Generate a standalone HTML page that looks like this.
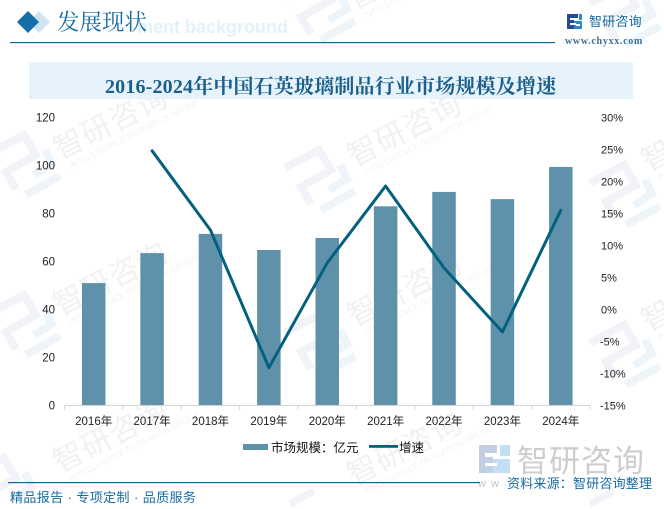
<!DOCTYPE html>
<html lang="zh">
<head>
<meta charset="utf-8">
<title>2016-2024年中国石英玻璃制品行业市场规模及增速</title>
<style>
html,body{margin:0;padding:0;background:#fff}
#stage{position:relative;width:664px;height:509px;overflow:hidden;background:#fff}
svg{position:absolute;left:0;top:0;overflow:hidden}
text{font-family:"Liberation Sans","Noto Sans CJK SC",sans-serif}
.serif{font-family:"Liberation Serif","Noto Serif CJK SC",serif}
</style>
</head>
<body>
<div id="stage">
<svg id="chart" width="664" height="509" viewBox="0 0 664 509">
  <defs>
    <g id="wm-logo">
      <path d="M0 18 L34 0 L46 20 L16 37 L26 54" fill="none" stroke="#f1f3f8" stroke-width="8"/>
      <path d="M44 40 L62 29 L55 15" fill="none" stroke="#edf5fb" stroke-width="8"/>
      <path d="M36 60 L70 41" fill="none" stroke="#edf5fb" stroke-width="8"/>
    </g>
    <g id="wm-logo-cut">
      <path d="M0 18 L34 0 L46 20 L16 37 L21 46" fill="none" stroke="#f1f3f8" stroke-width="8"/>
      <path d="M44 40 L62 29 L55 15" fill="none" stroke="#edf5fb" stroke-width="8"/>
    </g>
    <g id="wm-logo-edge">
      <path d="M0 14 L24 1" fill="none" stroke="#f1f3f8" stroke-width="7"/>
    </g>
    <g id="wm-word">
      <text x="0" y="0" font-size="30" fill="#f1f1f1" letter-spacing="1">智研咨询</text>
      <text x="6" y="13" font-size="8.5" fill="#f3f3f3">INTELLIGENCE RESEARCH GROUP</text>
    </g>
  </defs>

  <g id="watermarks">
    <use href="#wm-word" transform="translate(60,160) rotate(-27)"/>
    <use href="#wm-word" transform="translate(60,316) rotate(-27)"/>
    <use href="#wm-word" transform="translate(60,473) rotate(-27)"/>
    <use href="#wm-word" transform="translate(354,10) rotate(-27)"/>
    <use href="#wm-word" transform="translate(354,167) rotate(-27)"/>
    <use href="#wm-word" transform="translate(354,327) rotate(-27)"/>
    <use href="#wm-word" transform="translate(354,486) rotate(-27)"/>
    <use href="#wm-word" transform="translate(648,172) rotate(-27)"/>
    <use href="#wm-word" transform="translate(648,332) rotate(-27)"/>
    <use href="#wm-logo" transform="translate(-10,135)"/>
    <use href="#wm-logo" transform="translate(-10,295)"/>
    <use href="#wm-logo-cut" transform="translate(-30,458)"/>
    <use href="#wm-logo" transform="translate(285,-20)"/>
    <use href="#wm-logo" transform="translate(285,150)"/>
    <use href="#wm-logo" transform="translate(285,315)"/>
    <use href="#wm-logo-edge" transform="translate(290,490)"/>
    <use href="#wm-logo" transform="translate(590,165)"/>
    <use href="#wm-logo" transform="translate(590,325)"/>
    <use href="#wm-logo" transform="translate(590,-15)"/>
    <use href="#wm-logo-edge" transform="translate(590,490)"/>
  </g>

  <g>
    <text x="137" y="33" font-size="18" font-weight="bold" fill="#e3f1fa">ment background</text>
    <polygon points="39,11 50,22 39,33 28,22" fill="#cfe3f0"/>
    <polygon points="28,11 39,22 28,33 17,22" fill="#166fa9"/>
    <text class="serif" x="57" y="30" font-size="22.5" fill="#176ba1">发展现状</text>
    <rect x="10" y="42" width="545" height="1.2" fill="#0f669b"/>
    <g>
      <rect x="567" y="14" width="7" height="15" fill="#2b4a96"/>
      <rect x="574" y="14" width="4" height="4" fill="#2b4a96"/>
      <rect x="579" y="14" width="3" height="6" fill="#2b8ccc"/>
      <rect x="574" y="21" width="8" height="8" fill="#2b8ccc"/>
      <rect x="570" y="18" width="6" height="2" fill="#fff"/>
      <rect x="570" y="23" width="6" height="2" fill="#fff"/>
      <rect x="576" y="24" width="4" height="2" fill="#fff"/>
    </g>
    <text x="589" y="26" font-size="13" fill="#176ba1" letter-spacing="0.2">智研咨询</text>
    <text class="serif" x="565" y="44" font-size="10" font-weight="bold" fill="#3f6f94" letter-spacing="0.7">www.chyxx.com</text>
  </g>

  <rect x="29" y="62" width="604" height="37" fill="#e6f3fb"/>
  <text class="serif" x="105" y="93" font-size="20" font-weight="bold" fill="#1b5f8d" letter-spacing="0.17">2016-2024年中国石英玻璃制品行业市场规模及增速</text>

  <g id="y-left"></g>
  <g id="y-right"></g>
  <g id="bars"></g>
  <g id="x-axis"></g>
  <g id="line"></g>

  <g>
    <g>
      <rect x="243" y="444" width="25" height="6" fill="#5f92aa"/>
      <text x="271" y="452" font-size="12.5" fill="#111">市场规模：亿元</text>
    </g>
    <g>
      <rect x="369" y="445" width="29" height="2.8" fill="#04607f"/>
      <text x="399" y="452" font-size="12.5" fill="#111">增速</text>
    </g>
  </g>

  <g>
    <g>
      <rect x="479" y="445" width="14" height="28" fill="#c3cfe3"/>
      <rect x="493" y="445" width="4" height="8" fill="#c3cfe3"/>
      <rect x="500" y="445" width="10" height="11" fill="#c5dff2"/>
      <rect x="493" y="459" width="17" height="14" fill="#c5dff2"/>
      <rect x="485" y="453" width="12" height="4" fill="#fff"/>
      <rect x="485" y="463" width="12" height="3" fill="#fff"/>
    </g>
    <text x="517" y="472" font-size="31" fill="#cdcdcd" letter-spacing="1">智研咨询</text>
    <text x="478" y="487" font-size="11" fill="#c4c4c4" letter-spacing="5">ww</text>
    <rect x="8" y="482" width="472" height="1.2" fill="#0f669b"/>
    <text x="10" y="502" font-size="13" fill="#176ba1" letter-spacing="0.4">精品报告 · 专项定制 · 品质服务</text>
    <text x="507" y="488" font-size="13" fill="#176ba1" letter-spacing="0.2">资料来源：智研咨询整理</text>
  </g>
</svg>
</div>
<script>
const categories = ['2016年','2017年','2018年','2019年','2020年','2021年','2022年','2023年','2024年'];
const marketSize = [51, 63.5, 71.5, 64.8, 69.8, 83, 89, 86, 99.4];
const growthRate = [null, 24.8, 12.4, -9.1, 7.3, 19.3, 6.5, -3.5, 15.5];
const leftTicks = [0, 20, 40, 60, 80, 100, 120];
const rightTicks = [-15, -10, -5, 0, 5, 10, 15, 20, 25, 30];

const NS = 'http://www.w3.org/2000/svg';
const plotLeft = 64.5, plotRight = 590, plotTop = 117.5, plotBottom = 405.5;
const barWidth = 23.5;
const slot = (plotRight - plotLeft) / categories.length;
function xPos(i) { return plotLeft + slot * (i + 0.5); }
function yLeft(v) { return plotBottom - (v - 0) / (120 - 0) * (plotBottom - plotTop); }
function yRight(v) { return plotBottom - (v - (-15)) / (30 - (-15)) * (plotBottom - plotTop); }
function mk(tag, attrs, parent, txt) {
  const el = document.createElementNS(NS, tag);
  for (const k in attrs) el.setAttribute(k, attrs[k]);
  if (txt !== undefined) el.textContent = txt;
  parent.appendChild(el);
  return el;
}

const gBars = document.getElementById('bars');
const gX = document.getElementById('x-axis');
const gL = document.getElementById('y-left');
const gR = document.getElementById('y-right');
const gLine = document.getElementById('line');

marketSize.forEach(function (v, i) {
  const r = mk('rect', {x: xPos(i) - barWidth / 2, y: yLeft(v), width: barWidth, height: plotBottom - yLeft(v), fill: '#5f92aa'}, gBars);
  
  
});

const axisLine = mk('line', {x1: plotLeft, x2: plotRight, y1: plotBottom, y2: plotBottom, stroke: '#d4d4d4', 'stroke-width': 1}, gX);


for (let i = 0; i <= categories.length; i++) {
  const tx = plotLeft + slot * i;
  const t = mk('line', {x1: tx, x2: tx, y1: plotBottom, y2: plotBottom + 4, stroke: '#d4d4d4', 'stroke-width': 1}, gX);
  
  
}
categories.forEach(function (c, i) {
  const t = mk('text', {x: xPos(i), y: 425, 'font-size': 11.5, fill: '#222', 'text-anchor': 'middle'}, gX, c);
  
  
});
leftTicks.forEach(function (v) {
  const t = mk('text', {x: 55, y: yLeft(v) + 4, 'font-size': 11.5, fill: '#222', 'text-anchor': 'end'}, gL, String(v));
  
  
});
rightTicks.forEach(function (v) {
  const t = mk('text', {x: v < 0 ? 600 : 601, y: yRight(v) + 4, 'font-size': 11, fill: '#222'}, gR, (v < 0 ? '-' : '') + Math.abs(v) + '%');
  
  
});

const pts = [];
growthRate.forEach(function (v, i) {
  if (v !== null) pts.push(xPos(i).toFixed(1) + ',' + yRight(v).toFixed(1));
});
const pl = mk('polyline', {points: pts.join(' '), fill: 'none', stroke: '#04607f', 'stroke-width': 3, 'stroke-linejoin': 'round', 'stroke-linecap': 'round'}, gLine);


</script>
</body>
</html>
